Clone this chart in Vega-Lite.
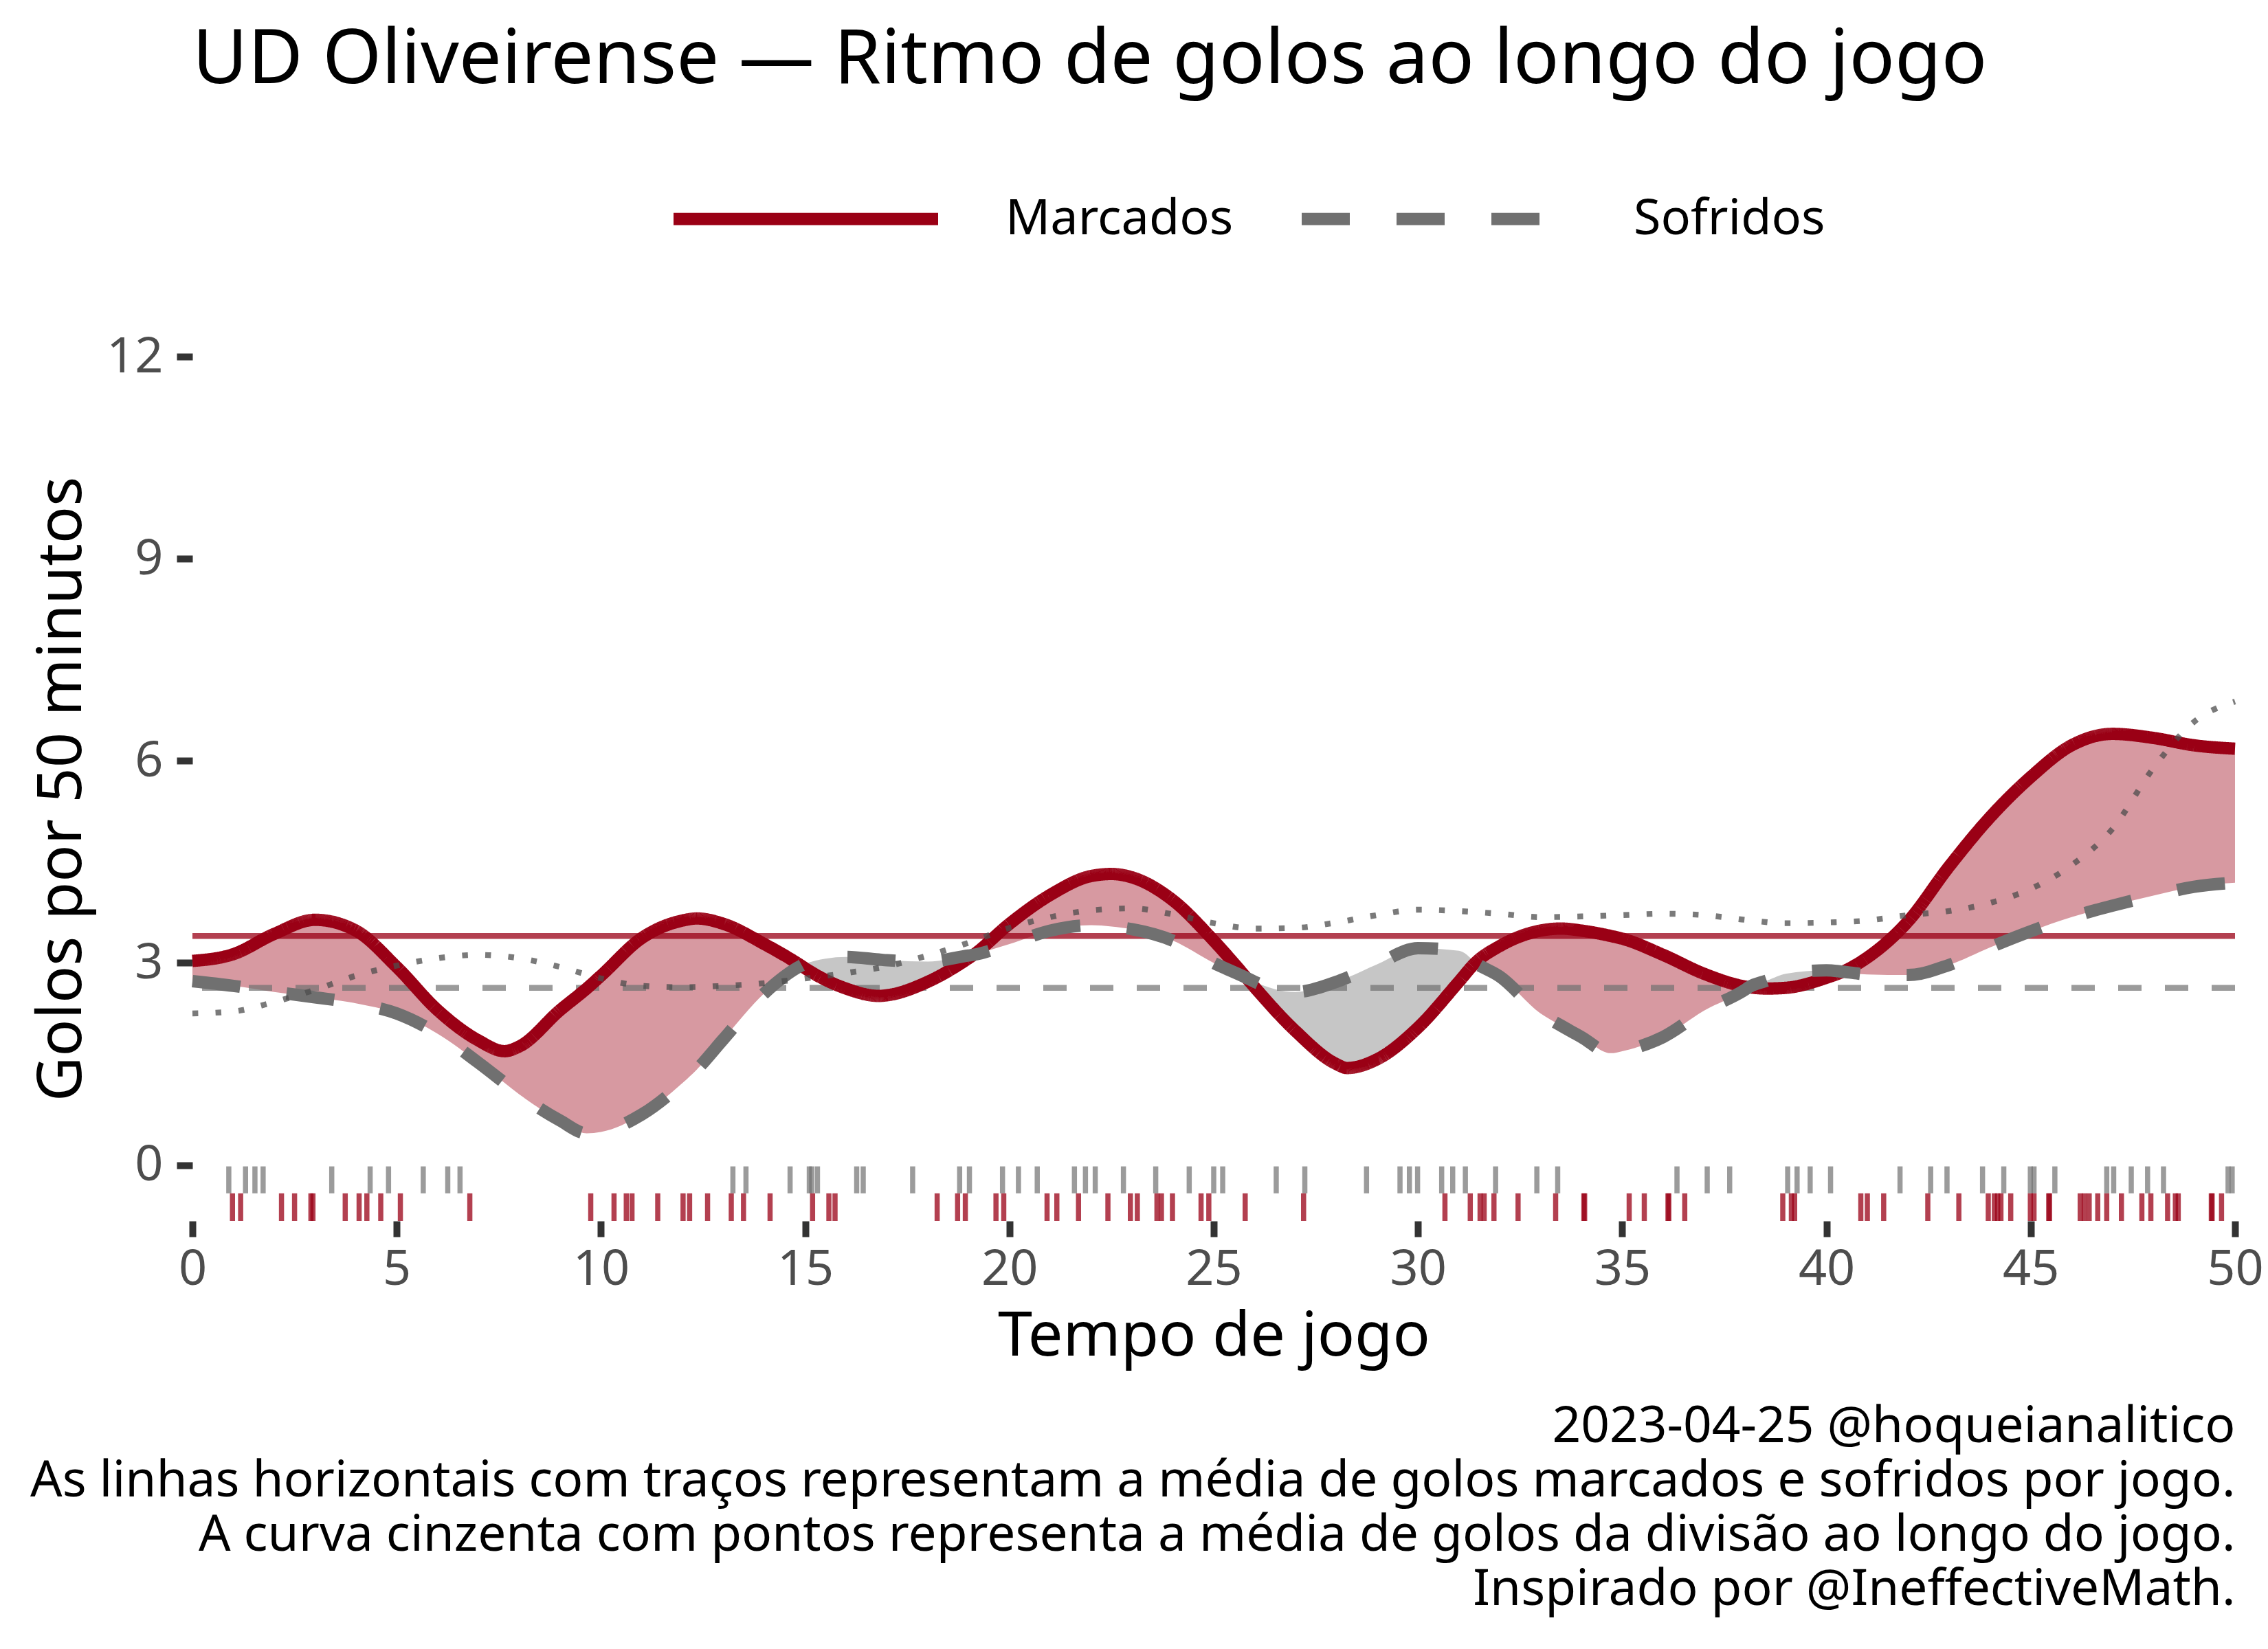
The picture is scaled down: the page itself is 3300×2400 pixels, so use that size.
{
  "$schema": "https://vega.github.io/schema/vega-lite/v6.json",
  "width": 2972,
  "height": 1258,
  "autosize": {"type": "none"},
  "padding": {"left": 280, "top": 519, "right": 48, "bottom": 623},
  "background": "white",
  "config": {
    "font": "Noto Sans",
    "view": {"stroke": null},
    "axis": {"grid": false, "domain": false, "labelFlush": false},
    "title": {"fontWeight": "normal", "color": "black"}
  },
  "title": {
    "text": "UD Oliveirense — Ritmo de golos ao longo do jogo",
    "anchor": "start",
    "frame": "group",
    "fontSize": 110,
    "offset": -27
  },
  "resolve": {"axis": {"x": "independent"}},
  "datasets": {
    "curvas": [
      {"t": 0, "Marcados": 3.03, "Sofridos": 2.73},
      {"t": 1, "Marcados": 3.13, "Sofridos": 2.66},
      {"t": 2, "Marcados": 3.43, "Sofridos": 2.57},
      {"t": 3, "Marcados": 3.64, "Sofridos": 2.49},
      {"t": 4, "Marcados": 3.48, "Sofridos": 2.40},
      {"t": 5, "Marcados": 2.94, "Sofridos": 2.25},
      {"t": 6, "Marcados": 2.30, "Sofridos": 1.95},
      {"t": 7, "Marcados": 1.85, "Sofridos": 1.52},
      {"t": 7.64, "Marcados": 1.69, "Sofridos": 1.22},
      {"t": 8, "Marcados": 1.76, "Sofridos": 1.05},
      {"t": 9, "Marcados": 2.30, "Sofridos": 0.66},
      {"t": 9.65, "Marcados": 2.62, "Sofridos": 0.47},
      {"t": 10, "Marcados": 2.81, "Sofridos": 0.49},
      {"t": 11, "Marcados": 3.37, "Sofridos": 0.75},
      {"t": 12, "Marcados": 3.63, "Sofridos": 1.22},
      {"t": 12.35, "Marcados": 3.66, "Sofridos": 1.42},
      {"t": 13, "Marcados": 3.58, "Sofridos": 1.87},
      {"t": 14, "Marcados": 3.28, "Sofridos": 2.55},
      {"t": 14.9, "Marcados": 2.96, "Sofridos": 2.96},
      {"t": 15, "Marcados": 2.92, "Sofridos": 2.99},
      {"t": 16, "Marcados": 2.62, "Sofridos": 3.09},
      {"t": 16.8, "Marcados": 2.51, "Sofridos": 3.05},
      {"t": 17, "Marcados": 2.52, "Sofridos": 3.04},
      {"t": 18, "Marcados": 2.72, "Sofridos": 3.02},
      {"t": 19, "Marcados": 3.07, "Sofridos": 3.11},
      {"t": 19.12, "Marcados": 3.12, "Sofridos": 3.12},
      {"t": 20, "Marcados": 3.58, "Sofridos": 3.28},
      {"t": 21, "Marcados": 4.01, "Sofridos": 3.48},
      {"t": 22, "Marcados": 4.29, "Sofridos": 3.56},
      {"t": 22.5, "Marcados": 4.32, "Sofridos": 3.54},
      {"t": 23, "Marcados": 4.27, "Sofridos": 3.50},
      {"t": 24, "Marcados": 3.93, "Sofridos": 3.33},
      {"t": 25, "Marcados": 3.33, "Sofridos": 3.00},
      {"t": 25.8, "Marcados": 2.78, "Sofridos": 2.78},
      {"t": 26, "Marcados": 2.64, "Sofridos": 2.72},
      {"t": 27, "Marcados": 1.99, "Sofridos": 2.57},
      {"t": 28, "Marcados": 1.50, "Sofridos": 2.72},
      {"t": 28.26, "Marcados": 1.44, "Sofridos": 2.78},
      {"t": 29, "Marcados": 1.57, "Sofridos": 2.98},
      {"t": 30, "Marcados": 2.04, "Sofridos": 3.22},
      {"t": 31, "Marcados": 2.72, "Sofridos": 3.18},
      {"t": 31.4, "Marcados": 3.00, "Sofridos": 3.00},
      {"t": 32, "Marcados": 3.25, "Sofridos": 2.80},
      {"t": 33, "Marcados": 3.48, "Sofridos": 2.25},
      {"t": 33.5, "Marcados": 3.51, "Sofridos": 2.07},
      {"t": 34, "Marcados": 3.48, "Sofridos": 1.90},
      {"t": 34.72, "Marcados": 3.40, "Sofridos": 1.66},
      {"t": 35, "Marcados": 3.36, "Sofridos": 1.69},
      {"t": 36, "Marcados": 3.12, "Sofridos": 1.90},
      {"t": 37, "Marcados": 2.84, "Sofridos": 2.29},
      {"t": 38, "Marcados": 2.65, "Sofridos": 2.60},
      {"t": 38.1, "Marcados": 2.64, "Sofridos": 2.64},
      {"t": 38.55, "Marcados": 2.62, "Sofridos": 2.74},
      {"t": 39, "Marcados": 2.63, "Sofridos": 2.84},
      {"t": 40, "Marcados": 2.78, "Sofridos": 2.89},
      {"t": 40.4, "Marcados": 2.87, "Sofridos": 2.87},
      {"t": 41, "Marcados": 3.08, "Sofridos": 2.83},
      {"t": 42, "Marcados": 3.62, "Sofridos": 2.82},
      {"t": 43, "Marcados": 4.43, "Sofridos": 2.97},
      {"t": 44, "Marcados": 5.16, "Sofridos": 3.23},
      {"t": 45, "Marcados": 5.76, "Sofridos": 3.47},
      {"t": 46, "Marcados": 6.23, "Sofridos": 3.68},
      {"t": 47, "Marcados": 6.40, "Sofridos": 3.85},
      {"t": 48, "Marcados": 6.34, "Sofridos": 4.00},
      {"t": 49, "Marcados": 6.23, "Sofridos": 4.13},
      {"t": 50, "Marcados": 6.18, "Sofridos": 4.19}
    ],
    "faixa": [
      {"seg": 1, "lado": "Marcados", "t": 0, "Marcados": 3.03, "Sofridos": 2.73},
      {"seg": 1, "lado": "Marcados", "t": 1, "Marcados": 3.13, "Sofridos": 2.66},
      {"seg": 1, "lado": "Marcados", "t": 2, "Marcados": 3.43, "Sofridos": 2.57},
      {"seg": 1, "lado": "Marcados", "t": 3, "Marcados": 3.64, "Sofridos": 2.49},
      {"seg": 1, "lado": "Marcados", "t": 4, "Marcados": 3.48, "Sofridos": 2.40},
      {"seg": 1, "lado": "Marcados", "t": 5, "Marcados": 2.94, "Sofridos": 2.25},
      {"seg": 1, "lado": "Marcados", "t": 6, "Marcados": 2.30, "Sofridos": 1.95},
      {"seg": 1, "lado": "Marcados", "t": 7, "Marcados": 1.85, "Sofridos": 1.52},
      {"seg": 1, "lado": "Marcados", "t": 7.64, "Marcados": 1.69, "Sofridos": 1.22},
      {"seg": 1, "lado": "Marcados", "t": 8, "Marcados": 1.76, "Sofridos": 1.05},
      {"seg": 1, "lado": "Marcados", "t": 9, "Marcados": 2.30, "Sofridos": 0.66},
      {"seg": 1, "lado": "Marcados", "t": 9.65, "Marcados": 2.62, "Sofridos": 0.47},
      {"seg": 1, "lado": "Marcados", "t": 10, "Marcados": 2.81, "Sofridos": 0.49},
      {"seg": 1, "lado": "Marcados", "t": 11, "Marcados": 3.37, "Sofridos": 0.75},
      {"seg": 1, "lado": "Marcados", "t": 12, "Marcados": 3.63, "Sofridos": 1.22},
      {"seg": 1, "lado": "Marcados", "t": 12.35, "Marcados": 3.66, "Sofridos": 1.42},
      {"seg": 1, "lado": "Marcados", "t": 13, "Marcados": 3.58, "Sofridos": 1.87},
      {"seg": 1, "lado": "Marcados", "t": 14, "Marcados": 3.28, "Sofridos": 2.55},
      {"seg": 1, "lado": "Marcados", "t": 14.9, "Marcados": 2.96, "Sofridos": 2.96},
      {"seg": 2, "lado": "Sofridos", "t": 14.9, "Marcados": 2.96, "Sofridos": 2.96},
      {"seg": 2, "lado": "Sofridos", "t": 15, "Marcados": 2.92, "Sofridos": 2.99},
      {"seg": 2, "lado": "Sofridos", "t": 16, "Marcados": 2.62, "Sofridos": 3.09},
      {"seg": 2, "lado": "Sofridos", "t": 16.8, "Marcados": 2.51, "Sofridos": 3.05},
      {"seg": 2, "lado": "Sofridos", "t": 17, "Marcados": 2.52, "Sofridos": 3.04},
      {"seg": 2, "lado": "Sofridos", "t": 18, "Marcados": 2.72, "Sofridos": 3.02},
      {"seg": 2, "lado": "Sofridos", "t": 19, "Marcados": 3.07, "Sofridos": 3.11},
      {"seg": 2, "lado": "Sofridos", "t": 19.12, "Marcados": 3.12, "Sofridos": 3.12},
      {"seg": 3, "lado": "Marcados", "t": 19.12, "Marcados": 3.12, "Sofridos": 3.12},
      {"seg": 3, "lado": "Marcados", "t": 20, "Marcados": 3.58, "Sofridos": 3.28},
      {"seg": 3, "lado": "Marcados", "t": 21, "Marcados": 4.01, "Sofridos": 3.48},
      {"seg": 3, "lado": "Marcados", "t": 22, "Marcados": 4.29, "Sofridos": 3.56},
      {"seg": 3, "lado": "Marcados", "t": 22.5, "Marcados": 4.32, "Sofridos": 3.54},
      {"seg": 3, "lado": "Marcados", "t": 23, "Marcados": 4.27, "Sofridos": 3.50},
      {"seg": 3, "lado": "Marcados", "t": 24, "Marcados": 3.93, "Sofridos": 3.33},
      {"seg": 3, "lado": "Marcados", "t": 25, "Marcados": 3.33, "Sofridos": 3.00},
      {"seg": 3, "lado": "Marcados", "t": 25.8, "Marcados": 2.78, "Sofridos": 2.78},
      {"seg": 4, "lado": "Sofridos", "t": 25.8, "Marcados": 2.78, "Sofridos": 2.78},
      {"seg": 4, "lado": "Sofridos", "t": 26, "Marcados": 2.64, "Sofridos": 2.72},
      {"seg": 4, "lado": "Sofridos", "t": 27, "Marcados": 1.99, "Sofridos": 2.57},
      {"seg": 4, "lado": "Sofridos", "t": 28, "Marcados": 1.50, "Sofridos": 2.72},
      {"seg": 4, "lado": "Sofridos", "t": 28.26, "Marcados": 1.44, "Sofridos": 2.78},
      {"seg": 4, "lado": "Sofridos", "t": 29, "Marcados": 1.57, "Sofridos": 2.98},
      {"seg": 4, "lado": "Sofridos", "t": 30, "Marcados": 2.04, "Sofridos": 3.22},
      {"seg": 4, "lado": "Sofridos", "t": 31, "Marcados": 2.72, "Sofridos": 3.18},
      {"seg": 4, "lado": "Sofridos", "t": 31.4, "Marcados": 3.00, "Sofridos": 3.00},
      {"seg": 5, "lado": "Marcados", "t": 31.4, "Marcados": 3.00, "Sofridos": 3.00},
      {"seg": 5, "lado": "Marcados", "t": 32, "Marcados": 3.25, "Sofridos": 2.80},
      {"seg": 5, "lado": "Marcados", "t": 33, "Marcados": 3.48, "Sofridos": 2.25},
      {"seg": 5, "lado": "Marcados", "t": 33.5, "Marcados": 3.51, "Sofridos": 2.07},
      {"seg": 5, "lado": "Marcados", "t": 34, "Marcados": 3.48, "Sofridos": 1.90},
      {"seg": 5, "lado": "Marcados", "t": 34.72, "Marcados": 3.40, "Sofridos": 1.66},
      {"seg": 5, "lado": "Marcados", "t": 35, "Marcados": 3.36, "Sofridos": 1.69},
      {"seg": 5, "lado": "Marcados", "t": 36, "Marcados": 3.12, "Sofridos": 1.90},
      {"seg": 5, "lado": "Marcados", "t": 37, "Marcados": 2.84, "Sofridos": 2.29},
      {"seg": 5, "lado": "Marcados", "t": 38, "Marcados": 2.65, "Sofridos": 2.60},
      {"seg": 5, "lado": "Marcados", "t": 38.1, "Marcados": 2.64, "Sofridos": 2.64},
      {"seg": 6, "lado": "Sofridos", "t": 38.1, "Marcados": 2.64, "Sofridos": 2.64},
      {"seg": 6, "lado": "Sofridos", "t": 38.55, "Marcados": 2.62, "Sofridos": 2.74},
      {"seg": 6, "lado": "Sofridos", "t": 39, "Marcados": 2.63, "Sofridos": 2.84},
      {"seg": 6, "lado": "Sofridos", "t": 40, "Marcados": 2.78, "Sofridos": 2.89},
      {"seg": 6, "lado": "Sofridos", "t": 40.4, "Marcados": 2.87, "Sofridos": 2.87},
      {"seg": 7, "lado": "Marcados", "t": 40.4, "Marcados": 2.87, "Sofridos": 2.87},
      {"seg": 7, "lado": "Marcados", "t": 41, "Marcados": 3.08, "Sofridos": 2.83},
      {"seg": 7, "lado": "Marcados", "t": 42, "Marcados": 3.62, "Sofridos": 2.82},
      {"seg": 7, "lado": "Marcados", "t": 43, "Marcados": 4.43, "Sofridos": 2.97},
      {"seg": 7, "lado": "Marcados", "t": 44, "Marcados": 5.16, "Sofridos": 3.23},
      {"seg": 7, "lado": "Marcados", "t": 45, "Marcados": 5.76, "Sofridos": 3.47},
      {"seg": 7, "lado": "Marcados", "t": 46, "Marcados": 6.23, "Sofridos": 3.68},
      {"seg": 7, "lado": "Marcados", "t": 47, "Marcados": 6.40, "Sofridos": 3.85},
      {"seg": 7, "lado": "Marcados", "t": 48, "Marcados": 6.34, "Sofridos": 4.00},
      {"seg": 7, "lado": "Marcados", "t": 49, "Marcados": 6.23, "Sofridos": 4.13},
      {"seg": 7, "lado": "Marcados", "t": 50, "Marcados": 6.18, "Sofridos": 4.19}
    ],
    "medias": [
      {"serie": "Marcados", "media": 3.4},
      {"serie": "Sofridos", "media": 2.63}
    ],
    "divisao": [
      {"t": 0, "media": 2.25}, {"t": 1, "media": 2.28}, {"t": 2, "media": 2.42},
      {"t": 3, "media": 2.60}, {"t": 4, "media": 2.81}, {"t": 5, "media": 2.96},
      {"t": 6, "media": 3.07}, {"t": 7, "media": 3.12}, {"t": 8, "media": 3.07},
      {"t": 9, "media": 2.94}, {"t": 10, "media": 2.77}, {"t": 11, "media": 2.66},
      {"t": 12, "media": 2.64}, {"t": 13, "media": 2.66}, {"t": 14, "media": 2.70},
      {"t": 15, "media": 2.77}, {"t": 16, "media": 2.85}, {"t": 17, "media": 2.95},
      {"t": 18, "media": 3.11}, {"t": 19, "media": 3.30}, {"t": 20, "media": 3.52},
      {"t": 21, "media": 3.68}, {"t": 22, "media": 3.78}, {"t": 23, "media": 3.81},
      {"t": 24, "media": 3.72}, {"t": 25, "media": 3.59}, {"t": 26, "media": 3.51},
      {"t": 27, "media": 3.52}, {"t": 28, "media": 3.60}, {"t": 29, "media": 3.71},
      {"t": 30, "media": 3.79}, {"t": 31, "media": 3.77}, {"t": 32, "media": 3.73},
      {"t": 33, "media": 3.68}, {"t": 34, "media": 3.69}, {"t": 35, "media": 3.71},
      {"t": 36, "media": 3.73}, {"t": 37, "media": 3.71}, {"t": 38, "media": 3.64},
      {"t": 39, "media": 3.59}, {"t": 40, "media": 3.60}, {"t": 41, "media": 3.63},
      {"t": 42, "media": 3.71}, {"t": 43, "media": 3.77}, {"t": 44, "media": 3.89},
      {"t": 45, "media": 4.10}, {"t": 46, "media": 4.45}, {"t": 47, "media": 4.99},
      {"t": 48, "media": 5.89}, {"t": 49, "media": 6.58}, {"t": 50, "media": 6.88}
    ],
    "golos": [
      {"t": 0.89, "serie": "Sofridos"}, {"t": 1.30, "serie": "Sofridos"}, {"t": 1.53, "serie": "Sofridos"},
      {"t": 1.73, "serie": "Sofridos"}, {"t": 3.41, "serie": "Sofridos"}, {"t": 4.35, "serie": "Sofridos"},
      {"t": 4.80, "serie": "Sofridos"}, {"t": 5.65, "serie": "Sofridos"}, {"t": 6.25, "serie": "Sofridos"},
      {"t": 6.55, "serie": "Sofridos"}, {"t": 13.23, "serie": "Sofridos"}, {"t": 13.55, "serie": "Sofridos"},
      {"t": 14.63, "serie": "Sofridos"}, {"t": 15.10, "serie": "Sofridos"}, {"t": 15.16, "serie": "Sofridos"},
      {"t": 15.30, "serie": "Sofridos"}, {"t": 16.26, "serie": "Sofridos"}, {"t": 16.42, "serie": "Sofridos"},
      {"t": 17.63, "serie": "Sofridos"}, {"t": 18.78, "serie": "Sofridos"}, {"t": 19.02, "serie": "Sofridos"},
      {"t": 19.83, "serie": "Sofridos"}, {"t": 20.22, "serie": "Sofridos"}, {"t": 20.68, "serie": "Sofridos"},
      {"t": 21.59, "serie": "Sofridos"}, {"t": 21.86, "serie": "Sofridos"}, {"t": 22.10, "serie": "Sofridos"},
      {"t": 22.79, "serie": "Sofridos"}, {"t": 23.58, "serie": "Sofridos"}, {"t": 24.40, "serie": "Sofridos"},
      {"t": 25.00, "serie": "Sofridos"}, {"t": 25.22, "serie": "Sofridos"}, {"t": 26.53, "serie": "Sofridos"},
      {"t": 27.23, "serie": "Sofridos"}, {"t": 28.74, "serie": "Sofridos"}, {"t": 29.56, "serie": "Sofridos"},
      {"t": 29.79, "serie": "Sofridos"}, {"t": 29.99, "serie": "Sofridos"}, {"t": 30.58, "serie": "Sofridos"},
      {"t": 30.85, "serie": "Sofridos"}, {"t": 31.16, "serie": "Sofridos"}, {"t": 31.90, "serie": "Sofridos"},
      {"t": 32.91, "serie": "Sofridos"}, {"t": 33.42, "serie": "Sofridos"}, {"t": 36.34, "serie": "Sofridos"},
      {"t": 37.08, "serie": "Sofridos"}, {"t": 37.63, "serie": "Sofridos"}, {"t": 39.05, "serie": "Sofridos"},
      {"t": 39.28, "serie": "Sofridos"}, {"t": 39.60, "serie": "Sofridos"}, {"t": 40.10, "serie": "Sofridos"},
      {"t": 41.80, "serie": "Sofridos"}, {"t": 42.55, "serie": "Sofridos"}, {"t": 42.95, "serie": "Sofridos"},
      {"t": 43.82, "serie": "Sofridos"}, {"t": 44.34, "serie": "Sofridos"}, {"t": 44.99, "serie": "Sofridos"},
      {"t": 45.08, "serie": "Sofridos"}, {"t": 45.59, "serie": "Sofridos"}, {"t": 46.86, "serie": "Sofridos"},
      {"t": 47.03, "serie": "Sofridos"}, {"t": 47.46, "serie": "Sofridos"}, {"t": 47.86, "serie": "Sofridos"},
      {"t": 48.25, "serie": "Sofridos"}, {"t": 49.83, "serie": "Sofridos"}, {"t": 49.93, "serie": "Sofridos"},
      {"t": 0.98, "serie": "Marcados"}, {"t": 1.18, "serie": "Marcados"}, {"t": 2.18, "serie": "Marcados"},
      {"t": 2.50, "serie": "Marcados"}, {"t": 2.90, "serie": "Marcados"}, {"t": 2.95, "serie": "Marcados"},
      {"t": 3.74, "serie": "Marcados"}, {"t": 4.08, "serie": "Marcados"}, {"t": 4.27, "serie": "Marcados"},
      {"t": 4.61, "serie": "Marcados"}, {"t": 5.09, "serie": "Marcados"}, {"t": 6.79, "serie": "Marcados"},
      {"t": 9.75, "serie": "Marcados"}, {"t": 10.32, "serie": "Marcados"}, {"t": 10.62, "serie": "Marcados"},
      {"t": 10.76, "serie": "Marcados"}, {"t": 11.39, "serie": "Marcados"}, {"t": 12.01, "serie": "Marcados"},
      {"t": 12.17, "serie": "Marcados"}, {"t": 12.61, "serie": "Marcados"}, {"t": 13.19, "serie": "Marcados"},
      {"t": 13.49, "serie": "Marcados"}, {"t": 14.14, "serie": "Marcados"}, {"t": 15.18, "serie": "Marcados"},
      {"t": 15.58, "serie": "Marcados"}, {"t": 15.73, "serie": "Marcados"}, {"t": 18.23, "serie": "Marcados"},
      {"t": 18.73, "serie": "Marcados"}, {"t": 18.92, "serie": "Marcados"}, {"t": 19.67, "serie": "Marcados"},
      {"t": 19.86, "serie": "Marcados"}, {"t": 20.92, "serie": "Marcados"}, {"t": 21.16, "serie": "Marcados"},
      {"t": 21.69, "serie": "Marcados"}, {"t": 22.41, "serie": "Marcados"}, {"t": 22.96, "serie": "Marcados"},
      {"t": 23.13, "serie": "Marcados"}, {"t": 23.61, "serie": "Marcados"}, {"t": 23.72, "serie": "Marcados"},
      {"t": 23.99, "serie": "Marcados"}, {"t": 24.69, "serie": "Marcados"}, {"t": 24.88, "serie": "Marcados"},
      {"t": 25.77, "serie": "Marcados"}, {"t": 27.20, "serie": "Marcados"}, {"t": 30.66, "serie": "Marcados"},
      {"t": 31.28, "serie": "Marcados"}, {"t": 31.52, "serie": "Marcados"}, {"t": 31.62, "serie": "Marcados"},
      {"t": 31.86, "serie": "Marcados"}, {"t": 32.45, "serie": "Marcados"}, {"t": 33.37, "serie": "Marcados"},
      {"t": 34.06, "serie": "Marcados"}, {"t": 34.08, "serie": "Marcados"}, {"t": 35.17, "serie": "Marcados"},
      {"t": 35.54, "serie": "Marcados"}, {"t": 36.12, "serie": "Marcados"}, {"t": 36.14, "serie": "Marcados"},
      {"t": 36.53, "serie": "Marcados"}, {"t": 38.93, "serie": "Marcados"}, {"t": 39.14, "serie": "Marcados"},
      {"t": 39.22, "serie": "Marcados"}, {"t": 40.84, "serie": "Marcados"}, {"t": 41.00, "serie": "Marcados"},
      {"t": 41.40, "serie": "Marcados"}, {"t": 42.48, "serie": "Marcados"}, {"t": 43.24, "serie": "Marcados"},
      {"t": 43.96, "serie": "Marcados"}, {"t": 44.11, "serie": "Marcados"}, {"t": 44.19, "serie": "Marcados"},
      {"t": 44.27, "serie": "Marcados"}, {"t": 44.51, "serie": "Marcados"}, {"t": 44.99, "serie": "Marcados"},
      {"t": 45.08, "serie": "Marcados"}, {"t": 45.44, "serie": "Marcados"}, {"t": 45.46, "serie": "Marcados"},
      {"t": 46.21, "serie": "Marcados"}, {"t": 46.31, "serie": "Marcados"}, {"t": 46.43, "serie": "Marcados"},
      {"t": 46.64, "serie": "Marcados"}, {"t": 46.86, "serie": "Marcados"}, {"t": 47.22, "serie": "Marcados"},
      {"t": 47.72, "serie": "Marcados"}, {"t": 47.94, "serie": "Marcados"}, {"t": 48.35, "serie": "Marcados"},
      {"t": 48.54, "serie": "Marcados"}, {"t": 48.61, "serie": "Marcados"}, {"t": 49.42, "serie": "Marcados"},
      {"t": 49.44, "serie": "Marcados"}, {"t": 49.67, "serie": "Marcados"}
    ]
  },
  "layer": [
    {
      "data": {"name": "faixa"},
      "transform": [{"filter": "datum.lado == 'Marcados'"}],
      "mark": {"type": "area", "interpolate": "monotone", "color": "#9a0015", "opacity": 0.4},
      "encoding": {
        "x": {
          "field": "t", "type": "quantitative",
          "scale": {"domain": [0, 50], "nice": false},
          "axis": {
            "title": "Tempo de jogo",
            "values": [0, 5, 10, 15, 20, 25, 30, 35, 40, 45, 50],
            "labelFontSize": 72, "labelColor": "#4d4d4d", "labelPadding": 12,
            "tickColor": "#333333", "tickWidth": 10, "tickSize": 23,
            "titleFontSize": 90, "titleFontWeight": "normal", "titleColor": "black", "titlePadding": 18
          }
        },
        "y": {
          "field": "Marcados", "type": "quantitative",
          "scale": {"domain": [-0.83, 12], "nice": false, "zero": false},
          "axis": {
            "title": "Golos por 50 minutos",
            "values": [0, 3, 6, 9, 12], "format": "d",
            "labelFontSize": 72, "labelColor": "#4d4d4d", "labelPadding": 20,
            "tickColor": "#333333", "tickWidth": 10, "tickSize": 23,
            "titleFontSize": 90, "titleFontWeight": "normal", "titleColor": "black", "titlePadding": 18
          }
        },
        "y2": {"field": "Sofridos"},
        "detail": {"field": "seg", "type": "nominal"}
      }
    },
    {
      "data": {"name": "faixa"},
      "transform": [{"filter": "datum.lado == 'Sofridos'"}],
      "mark": {"type": "area", "interpolate": "monotone", "color": "#707070", "opacity": 0.4},
      "encoding": {
        "x": {"field": "t", "type": "quantitative", "axis": null},
        "y": {"field": "Marcados", "type": "quantitative"},
        "y2": {"field": "Sofridos"},
        "detail": {"field": "seg", "type": "nominal"}
      }
    },
    {
      "data": {"name": "medias"},
      "transform": [{"filter": "datum.serie == 'Marcados'"}],
      "mark": {"type": "rule", "color": "#9a0015", "opacity": 0.75, "strokeWidth": 8.4},
      "encoding": {"y": {"field": "media", "type": "quantitative"}}
    },
    {
      "data": {"name": "medias"},
      "transform": [{"filter": "datum.serie == 'Sofridos'"}],
      "mark": {"type": "rule", "color": "#707070", "opacity": 0.7, "strokeWidth": 8.4, "strokeDash": [34, 34]},
      "encoding": {"y": {"field": "media", "type": "quantitative"}}
    },
    {
      "data": {"name": "curvas"},
      "transform": [{"fold": ["Marcados", "Sofridos"], "as": ["serie", "valor"]}],
      "mark": {"type": "line", "interpolate": "monotone", "strokeWidth": 18},
      "encoding": {
        "x": {"field": "t", "type": "quantitative", "axis": null},
        "y": {"field": "valor", "type": "quantitative"},
        "color": {
          "field": "serie", "type": "nominal",
          "scale": {"domain": ["Marcados", "Sofridos"], "range": ["#9a0015", "#707070"]},
          "legend": {
            "orient": "none", "legendX": 691, "legendY": -402, "direction": "horizontal", "title": null,
            "symbolType": "stroke", "symbolSize": 148225, "symbolStrokeWidth": 18, "labelLimit": 0,
            "labelFontSize": 72, "labelColor": "black", "labelOffset": 89, "columnPadding": 63
          }
        },
        "strokeDash": {
          "field": "serie", "type": "nominal",
          "scale": {"domain": ["Marcados", "Sofridos"], "range": [[1, 0], [70, 68]]},
          "legend": {
            "orient": "none", "legendX": 691, "legendY": -402, "direction": "horizontal", "title": null,
            "symbolType": "stroke", "symbolSize": 148225, "symbolStrokeWidth": 18, "labelLimit": 0,
            "labelFontSize": 72, "labelColor": "black", "labelOffset": 89, "columnPadding": 63
          }
        }
      }
    },
    {
      "data": {"name": "divisao"},
      "mark": {"type": "line", "interpolate": "monotone", "color": "#4d4d4d", "opacity": 0.75, "strokeWidth": 8.4, "strokeDash": [8.4, 25.2]},
      "encoding": {
        "x": {
          "field": "t", "type": "quantitative",
          "axis": {
            "orient": "bottom", "offset": 263, "labels": false, "ticks": false, "domain": false,
            "title": [
              "2023-04-25 @hoqueianalitico",
              "As linhas horizontais com traços representam a média de golos marcados e sofridos por jogo.",
              "A curva cinzenta com pontos representa a média de golos da divisão ao longo do jogo.",
              "Inspirado por @IneffectiveMath."
            ],
            "titleAnchor": "end", "titleAlign": "right", "titleFontSize": 73, "titleFontWeight": "normal",
            "titleColor": "black", "titleLineHeight": 79, "titlePadding": 0
          }
        },
        "y": {"field": "media", "type": "quantitative"}
      }
    },
    {
      "data": {"name": "golos"},
      "transform": [{"filter": "datum.serie == 'Sofridos'"}],
      "mark": {"type": "rule", "color": "#707070", "opacity": 0.7, "strokeWidth": 7.5},
      "encoding": {
        "x": {"field": "t", "type": "quantitative", "axis": null},
        "y": {"datum": -0.02, "type": "quantitative"},
        "y2": {"datum": -0.42}
      }
    },
    {
      "data": {"name": "golos"},
      "transform": [{"filter": "datum.serie == 'Marcados'"}],
      "mark": {"type": "rule", "color": "#9a0015", "opacity": 0.75, "strokeWidth": 7.5},
      "encoding": {
        "x": {"field": "t", "type": "quantitative", "axis": null},
        "y": {"datum": -0.42, "type": "quantitative"},
        "y2": {"datum": -0.83}
      }
    }
  ]
}
